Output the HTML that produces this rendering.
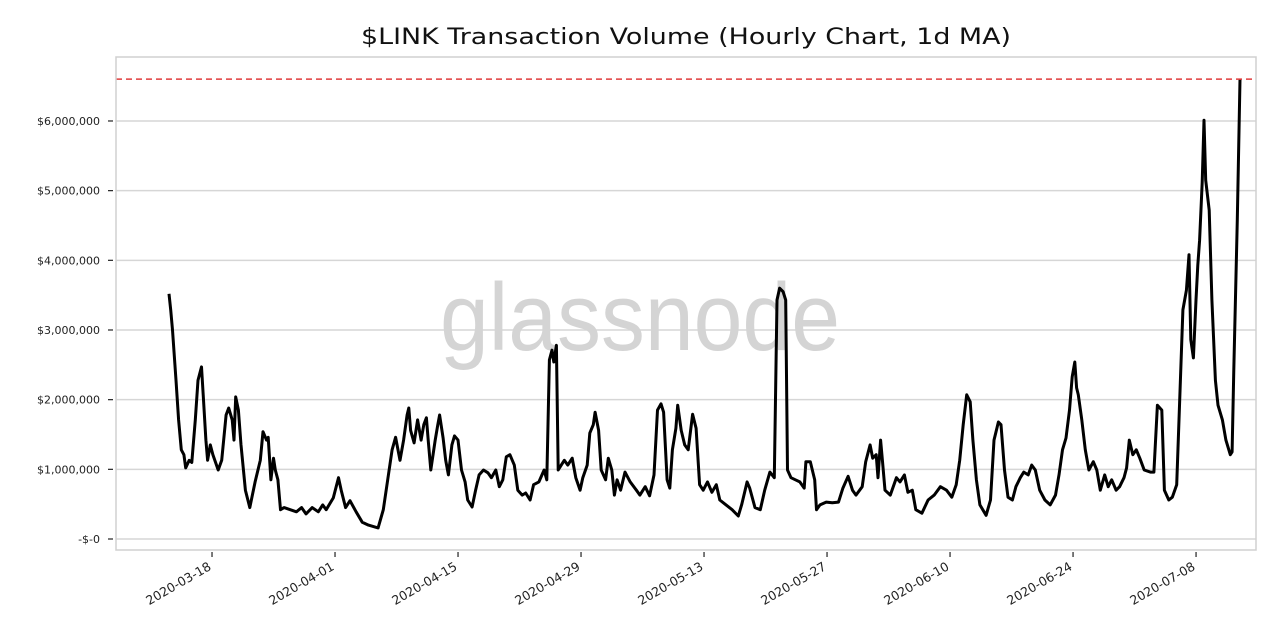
<!DOCTYPE html>
<html><head><meta charset="utf-8"><style>
html,body{margin:0;padding:0;background:#fff;}
svg{display:block;font-family:"DejaVu Sans","Liberation Sans",sans-serif;}
</style></head><body>
<svg id="chart" width="1280" height="640" viewBox="0 0 1280 640">
<text x="686" y="44" text-anchor="middle" font-size="22" fill="#111" textLength="650" lengthAdjust="spacingAndGlyphs">$LINK Transaction Volume (Hourly Chart, 1d MA)</text>
<g id="grid"></g>
<text x="640" y="350" text-anchor="middle" font-size="96" fill="#d4d4d4" font-family="Liberation Sans, sans-serif" textLength="400" lengthAdjust="spacingAndGlyphs">glassnode</text>
<g id="yaxis"></g>
<g id="xaxis"></g>
<path id="series" fill="none" stroke="#000" stroke-width="3" stroke-linejoin="round"/>
<line id="ath" stroke="#e03c3c" stroke-width="1.5" stroke-dasharray="6,4"/>
<rect x="116" y="57" width="1140" height="493" fill="none" stroke="#d0d0d0" stroke-width="1.5"/>
</svg>
<script>
const days=[1.1,1.3,1.5,1.9,2.2,2.5,2.8,3.0,3.4,3.7,4.1,4.4,4.8,5.0,5.3,5.5,5.8,6.1,6.7,7.1,7.6,7.9,8.3,8.5,8.7,9.0,9.3,9.8,10.3,10.9,11.5,11.8,12.2,12.4,12.7,13.0,13.2,13.5,13.8,14.2,14.9,15.6,16.2,16.7,17.4,18.1,18.6,19.0,19.8,20.4,20.7,21.2,21.7,22.4,23.1,23.8,24.9,25.5,26.0,26.5,26.9,27.4,27.8,28.2,28.4,28.6,29.0,29.4,29.8,30.1,30.4,30.6,30.9,31.4,31.7,31.9,32.3,32.6,32.9,33.3,33.6,34.0,34.4,34.8,35.1,35.6,36.0,36.4,36.9,37.4,37.8,38.3,38.7,39.1,39.5,39.9,40.4,40.8,41.3,41.7,42.2,42.6,43.2,43.8,44.1,44.4,44.7,44.9,45.2,45.4,45.7,46.1,46.5,47.0,47.4,47.9,48.2,48.7,49.0,49.4,49.6,50.0,50.3,50.8,51.1,51.5,51.8,52.1,52.5,53.0,53.6,54.3,54.7,55.3,55.8,56.3,56.7,57.1,57.4,57.8,58.1,58.4,58.8,59.0,59.4,59.8,60.2,60.7,61.1,61.5,61.9,62.4,62.9,63.4,63.8,64.4,65.2,65.9,66.3,66.9,67.2,67.8,68.4,68.9,69.5,70.0,70.3,70.6,71.0,71.3,71.5,71.9,72.4,72.9,73.4,73.6,74.1,74.6,74.8,75.2,75.9,76.6,77.3,77.8,78.4,78.9,79.3,80.0,80.4,80.9,81.2,81.6,81.8,82.1,82.3,82.6,83.2,83.9,84.3,84.8,85.2,85.7,86.1,86.8,87.5,88.2,88.9,89.6,90.2,90.7,91.1,91.5,91.9,92.3,92.6,93.0,93.4,94.1,94.6,95.0,95.5,95.8,96.2,96.6,97.1,97.5,98.0,98.4,98.9,99.3,99.7,100.2,100.8,101.4,102.0,102.4,102.8,103.2,103.6,103.9,104.2,104.4,104.6,105.0,105.4,105.8,106.3,106.7,107.1,107.6,108.0,108.4,108.9,109.3,109.8,110.1,110.4,110.8,111.2,111.6,112.1,112.8,113.2,113.6,114.1,114.4,114.9,115.3,115.8,116.5,116.9,117.2,117.4,117.7,118.0,118.2,118.4,118.7,118.9,119.1,119.5,119.8,120.2,120.5,121.0,121.4,121.9,122.1,122.3,122.7,123.0];
const volumes=[3.52,3.29,3.0,2.28,1.71,1.28,1.21,1.02,1.13,1.1,1.71,2.28,2.47,2.07,1.42,1.13,1.35,1.21,0.99,1.13,1.78,1.88,1.71,1.42,2.04,1.85,1.35,0.70,0.45,0.82,1.13,1.54,1.42,1.46,0.85,1.16,0.99,0.85,0.42,0.45,0.42,0.39,0.45,0.36,0.45,0.39,0.49,0.42,0.59,0.88,0.70,0.45,0.55,0.39,0.24,0.20,0.16,0.42,0.85,1.28,1.46,1.13,1.42,1.78,1.88,1.56,1.38,1.71,1.42,1.64,1.74,1.42,0.99,1.42,1.64,1.78,1.45,1.13,0.92,1.35,1.48,1.42,0.99,0.82,0.56,0.46,0.70,0.92,0.99,0.95,0.88,0.99,0.75,0.85,1.18,1.21,1.06,0.70,0.63,0.66,0.56,0.78,0.82,0.99,0.85,2.57,2.71,2.54,2.78,0.99,1.05,1.13,1.06,1.16,0.88,0.70,0.88,1.06,1.52,1.64,1.82,1.56,0.99,0.85,1.16,0.99,0.63,0.85,0.70,0.96,0.82,0.70,0.63,0.75,0.62,0.92,1.85,1.94,1.82,0.85,0.73,1.28,1.59,1.92,1.56,1.35,1.28,1.79,1.59,0.78,0.70,0.82,0.67,0.78,0.56,0.50,0.42,0.33,0.50,0.82,0.73,0.45,0.42,0.70,0.96,0.88,3.43,3.60,3.55,3.43,0.99,0.88,0.85,0.82,0.73,1.11,1.11,0.85,0.42,0.49,0.53,0.52,0.53,0.73,0.90,0.70,0.63,0.75,1.11,1.35,1.16,1.21,0.88,1.42,1.13,0.70,0.63,0.88,0.82,0.92,0.67,0.70,0.42,0.37,0.56,0.63,0.75,0.70,0.60,0.78,1.13,1.64,2.07,1.97,1.42,0.85,0.49,0.34,0.56,1.42,1.68,1.64,0.99,0.60,0.56,0.75,0.88,0.96,0.92,1.06,0.99,0.70,0.56,0.49,0.63,0.92,1.28,1.45,1.85,2.33,2.54,2.17,2.07,1.71,1.28,0.99,1.11,0.99,0.70,0.92,0.75,0.85,0.70,0.75,0.88,1.02,1.42,1.21,1.28,1.16,0.99,0.96,0.96,1.92,1.85,0.70,0.56,0.60,0.78,3.29,3.57,4.08,2.86,2.60,3.43,3.93,4.29,5.12,6.01,5.15,4.72,3.43,2.28,1.92,1.71,1.42,1.21,1.25,2.43,4.58,6.60];
const athValue=6.6;
const yTicks=[0,1,2,3,4,5,6];
const yTickLabels=["-$-0","$1,000,000","$2,000,000","$3,000,000","$4,000,000","$5,000,000","$6,000,000"];
const xTickDays=[6,20,34,48,62,76,90,104,118];
const xTickLabels=["2020-03-18","2020-04-01","2020-04-15","2020-04-29","2020-05-13","2020-05-27","2020-06-10","2020-06-24","2020-07-08"];

const NS="http://www.w3.org/2000/svg";
function xScale(d){return 159.3+d*8.786;}
function yScale(v){return 539-v*69.67;}
const grid=document.getElementById('grid'),ya=document.getElementById('yaxis'),xa=document.getElementById('xaxis');
yTicks.forEach((t,i)=>{
  const y=yScale(t);
  const g=document.createElementNS(NS,'line');
  
  
  g.setAttribute('x1',116);g.setAttribute('x2',1256);g.setAttribute('y1',y);g.setAttribute('y2',y);
  g.setAttribute('stroke','#d6d6d6');g.setAttribute('stroke-width','1.5');
  grid.appendChild(g);
  const tk=document.createElementNS(NS,'line');
  
  
  tk.setAttribute('x1',108);tk.setAttribute('x2',113);tk.setAttribute('y1',y);tk.setAttribute('y2',y);
  tk.setAttribute('stroke','#222');tk.setAttribute('stroke-width','1.2');
  ya.appendChild(tk);
  const tx=document.createElementNS(NS,'text');
  
  
  tx.setAttribute('x',100);tx.setAttribute('y',y+4);tx.setAttribute('text-anchor','end');
  tx.setAttribute('font-size','11');tx.setAttribute('fill','#222');
  tx.textContent=yTickLabels[i];
  ya.appendChild(tx);
});
xTickDays.forEach((d,i)=>{
  const x=xScale(d);
  const tk=document.createElementNS(NS,'line');
  
  
  tk.setAttribute('x1',x);tk.setAttribute('x2',x);tk.setAttribute('y1',552);tk.setAttribute('y2',557);
  tk.setAttribute('stroke','#222');tk.setAttribute('stroke-width','1.2');
  xa.appendChild(tk);
  const tx=document.createElementNS(NS,'text');
  
  
  tx.setAttribute('x',x);tx.setAttribute('y',569);tx.setAttribute('text-anchor','end');
  tx.setAttribute('font-size','12.5');tx.setAttribute('fill','#222');
  tx.setAttribute('transform','rotate(-30 '+x+' 569)');
  tx.textContent=xTickLabels[i];
  xa.appendChild(tx);
});
let dstr='';
days.forEach((d,i)=>{dstr+=(i?'L':'M')+xScale(d).toFixed(1)+' '+yScale(volumes[i]).toFixed(1);});
document.getElementById('series').setAttribute('d',dstr);
const ath=document.getElementById('ath');
ath.setAttribute('x1',116);ath.setAttribute('x2',1256);
ath.setAttribute('y1',yScale(athValue));ath.setAttribute('y2',yScale(athValue));
</script>
</body></html>
